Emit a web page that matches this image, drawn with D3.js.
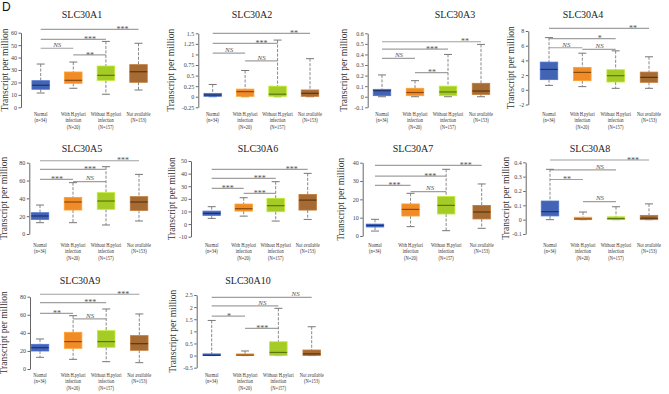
<!DOCTYPE html>
<html>
<head>
<meta charset="utf-8">
<script src="https://cdn.jsdelivr.net/npm/d3@7"></script>
<style>
body{margin:0;background:#fff}
svg{display:block}
svg text{font-family:"Liberation Serif","Times New Roman",serif}
</style>
</head>
<body>
<div id="chart"></div>
<script>
var genes = ['SLC30A1','SLC30A2','SLC30A3','SLC30A4','SLC30A5','SLC30A6','SLC30A7','SLC30A8','SLC30A9','SLC30A10'];
var groups = ['Normal','With H.pylori infection','Without H.pylori infection','Not available'];
var groupLabels = [['Normal','(n=34)'],['With H.pylori','infection','(N=20)'],['Without H.pylori','infection','(N=157)'],['Not available','(N=153)']];

// [low whisker, q1, median, q3, high whisker] per group
var slc30a1 = [[11.5,14.5,17.7,21.4,34.8],[15.3,19.3,21.7,28.4,36.4],[10.5,21.7,25.7,33.2,53],[13.9,20.1,28.6,34.3,51.5]];
var slc30a2 = [[0,0.01,0.04,0.08,0.29],[0,0.01,0.12,0.18,0.62],[0,0.01,0.06,0.25,1.34],[0,0.01,0.08,0.16,0.9]];
var slc30a3 = [[0,0.01,0.057,0.07,0.206],[0,0.01,0.04,0.08,0.152],[0,0.01,0.045,0.10,0.40],[0,0.022,0.054,0.127,0.495]];
var slc30a4 = [[0.6,1.38,2.77,3.77,7.1],[0.43,1.24,2.37,3.05,4.98],[0.2,1.06,1.92,2.73,5.3],[0.2,1.02,1.69,2.41,4.49]];
var slc30a5 = [[12.7,16.4,20.2,23.9,32.5],[12.7,26.9,35.9,41.1,57.6],[10.1,27.7,37,46.4,75.5],[14.6,26.5,35.9,41.9,66.9]];
var slc30a6 = [[4.5,6.9,8.5,10.3,13.8],[6.3,10.3,12.2,15.9,20.9],[2.4,9.8,14.6,20.4,33.6],[3.7,11.1,19.0,23.5,40.2]];
var slc30a7 = [[2.7,4.9,5.8,6.5,9.1],[5.1,10.9,14.5,17.5,23.3],[2.9,12,16.7,21.5,36.4],[4.2,9.3,13.1,16.7,28.4]];
var slc30a8 = [[0,0.026,0.056,0.13,0.351],[0,0,0.005,0.017,0.053],[0,0,0.007,0.02,0.09],[0,0,0.01,0.03,0.11]];
var slc30a9 = [[12.9,19.9,23.6,27.3,33.2],[10.7,22.9,30.3,40.6,59],[8.1,24,30.3,42.4,66.4],[7,20.7,28,36.9,60.9]];
var slc30a10 = [[0,0,0.01,0.07,1.45],[0,0,0.02,0.07,0.19],[0,0,0.13,0.57,1.95],[0,0,0.07,0.23,1.19]];

// y tick values per gene
var ticks1 = [0,10,20,30,40,50,60];
var ticks2 = [-0.25,0,0.25,0.5,0.75,1,1.25,1.5];
var ticks3 = [-0.1,0,0.1,0.2,0.3,0.4,0.5,0.6];
var ticks4 = [-2,0,2,4,6,8];
var ticks5 = [0,20,40,60,80];
var ticks6 = [-10,0,10,20,30,40,50];
var ticks7 = [0,10,20,30,40];
var ticks8 = [-0.1,0,0.1,0.2,0.3,0.4];
var ticks9 = [0,20,40,60,80];
var ticks10 = [-0.5,0,0.5,1,1.5,2,2.5];

// significance bars: [from group, to group, level, label]
var sig1 = [[0,3,62.7,'***'],[0,2,54.7,'***'],[0,1,47.5,'NS'],[1,2,42.1,'**']];
var sig2 = [[0,3,1.5,'**'],[0,2,1.26,'***'],[0,1,1.03,'NS'],[1,2,0.85,'NS']];
var sig3 = [[0,3,0.52,'**'],[0,2,0.45,'***'],[0,1,0.363,'NS'],[1,2,0.228,'**']];
var sig4 = [[0,3,8.37,'**'],[0,2,6.95,'*'],[0,1,5.72,'NS'],[1,2,5.5,'NS']];
var sig5 = [[0,3,82.2,'***'],[0,2,72.5,'***'],[0,1,61.3,'***'],[1,2,58.7,'NS']];
var sig6 = [[0,3,43.4,'***'],[0,2,36.2,'***'],[0,1,28.3,'***'],[1,2,24.3,'***']];
var sig7 = [[0,3,38.5,'***'],[0,2,32.7,'***'],[0,1,27.6,'***'],[1,2,24.2,'NS']];
var sig8 = [[0,3,0.416,'***'],[0,2,0.347,'NS'],[0,1,0.28,'**'],[1,2,0.126,'NS']];
var sig9 = [[0,3,82.7,'***'],[0,2,73.4,'***'],[0,1,61.6,'**'],[1,2,55.4,'NS']];
var sig10 = [[0,3,2.4,'NS'],[0,2,2.05,'NS'],[0,1,1.63,'*'],[1,2,1.12,'***']];

var allStats = [slc30a1,slc30a2,slc30a3,slc30a4,slc30a5,slc30a6,slc30a7,slc30a8,slc30a9,slc30a10];
var allTicks = [ticks1,ticks2,ticks3,ticks4,ticks5,ticks6,ticks7,ticks8,ticks9,ticks10];
var allSig = [sig1,sig2,sig3,sig4,sig5,sig6,sig7,sig8,sig9,sig10];

var width = 669, height = 394;
var serif = '"Liberation Serif","Times New Roman",serif';
var boxColors = ['#4363b5','#f08b28','#a5cb27','#a66a33'];
var medColors = ['#1d336c','#8a4a0e','#5c760e','#5b3610'];
var boxW = 17.5;

// panel placement (pixels)
var layout = [
	{axis:21, c0:40.7, c3:138.5, top:32.7, bottom:107.3, ylab:6, title:82},
	{axis:198.3, c0:212.7, c3:310, top:33.3, bottom:107.3, ylab:172, title:252},
	{axis:367.7, c0:382, c3:481, top:33.3, bottom:107.3, ylab:345, title:455},
	{axis:528.3, c0:549, c3:649, top:31, bottom:104.5, ylab:512, title:583},
	{axis:29.3, c0:40, c3:139, top:162.7, bottom:234, ylab:5, title:82},
	{axis:191, c0:211.7, c3:307.7, top:161, bottom:236.7, ylab:173, title:258},
	{axis:362.7, c0:375, c3:481.7, top:162.7, bottom:236, ylab:342, title:413},
	{axis:525.7, c0:550, c3:649, top:162.3, bottom:234, ylab:507, title:590},
	{axis:30, c0:40, c3:139.3, top:296.7, bottom:369, ylab:5, title:80},
	{axis:196.7, c0:211.7, c3:311.7, top:295, bottom:367.7, ylab:174, title:248}
];
var titleY = [16, 150, 282];
var labelY = [114, 245, 375];

var svg = d3.select('#chart').append('svg')
	.attr('width', width)
	.attr('height', height)
	.attr('font-family', serif);

svg.append('rect').attr('width', width).attr('height', height).attr('fill', '#fff');

svg.append('text')
	.attr('x', 2).attr('y', 11)
	.attr('font-size', 12)
	.style('font-family', 'Liberation Sans, Arial, sans-serif')
	.attr('fill', '#111')
	.text('D');

function drawPanel(i) {
	var L = layout[i];
	var row = i < 4 ? 0 : (i < 8 ? 1 : 2);
	var stats = allStats[i];
	var ticks = allTicks[i];

	var y = d3.scaleLinear()
		.domain([ticks[0], ticks[ticks.length - 1]])
		.range([L.bottom, L.top]);
	var x = d3.scalePoint()
		.domain(groups)
		.range([L.c0, L.c3]);

	var g = svg.append('g');

	// title
	g.append('text')
		.attr('x', L.title).attr('y', titleY[row])
		.attr('text-anchor', 'middle')
		.attr('dominant-baseline', 'middle')
		.attr('font-size', 10)
		.attr('fill', '#222')
		.text(genes[i]);

	// y axis
	var yAxis = d3.axisLeft(y)
		.tickValues(ticks)
		.tickSize(2.5)
		.tickSizeOuter(0)
		.tickFormat(function(d) { return String(+d.toFixed(2)); });
	var ax = g.append('g')
		.attr('transform', 'translate(' + L.axis + ',0)')
		.call(yAxis)
		.attr('font-family', serif);
	ax.select('.domain').attr('stroke', '#666');
	ax.selectAll('.tick line').attr('stroke', '#666');
	ax.selectAll('.tick text')
		.attr('font-size', 6)
		.attr('fill', '#444')
		.attr('x', -4);

	g.append('text')
		.attr('transform', 'translate(' + L.ylab + ',' + ((L.top + L.bottom) / 2) + ') rotate(-90)')
		.attr('text-anchor', 'middle')
		.attr('dominant-baseline', 'middle')
		.attr('font-size', 9.5)
		.attr('fill', '#333')
		.text('Transcript per million');

	// significance bars
	allSig[i].forEach(function(s) {
		var x1 = x(groups[s[0]]), x2 = x(groups[s[1]]);
		g.append('line')
			.attr('x1', x1).attr('x2', x2)
			.attr('y1', y(s[2])).attr('y2', y(s[2]))
			.attr('stroke', '#a0a0a0')
			.attr('stroke-width', 1.2);
		var isNS = s[3] == 'NS';
		g.append('text')
			.attr('x', x2 - 16)
			.attr('y', y(s[2]) + (isNS ? -1.2 : 2.6))
			.attr('text-anchor', 'middle')
			.attr('font-size', isNS ? 7 : 8)
			.attr('font-style', isNS ? 'italic' : 'normal')
			.attr('fill', '#555')
			.text(s[3]);
	});

	// boxes
	stats.forEach(function(d, j) {
		var cx = x(groups[j]);
		g.append('line')
			.attr('x1', cx).attr('x2', cx)
			.attr('y1', y(d[4])).attr('y2', y(d[3]))
			.attr('stroke', '#888').attr('stroke-width', 1)
			.attr('stroke-dasharray', '3,1.5');
		g.append('line')
			.attr('x1', cx).attr('x2', cx)
			.attr('y1', y(d[1])).attr('y2', y(d[0]))
			.attr('stroke', '#888').attr('stroke-width', 1)
			.attr('stroke-dasharray', '3,1.5');
		[d[0], d[4]].forEach(function(v) {
			g.append('line')
				.attr('x1', cx - 4).attr('x2', cx + 4)
				.attr('y1', y(v)).attr('y2', y(v))
				.attr('stroke', '#777').attr('stroke-width', 1);
		});
		g.append('rect')
			.attr('x', cx - boxW / 2)
			.attr('y', y(d[3]))
			.attr('width', boxW)
			.attr('height', Math.max(1.5, y(d[1]) - y(d[3])))
			.attr('fill', boxColors[j])
			.attr('stroke', d3.color(boxColors[j]).brighter(0.4))
			.attr('stroke-width', 0.8);
		g.append('line')
			.attr('x1', cx - boxW / 2).attr('x2', cx + boxW / 2)
			.attr('y1', y(d[2])).attr('y2', y(d[2]))
			.attr('stroke', medColors[j]).attr('stroke-width', 1.2);
	});

	// category labels, horizontally condensed like the source figure
	groupLabels.forEach(function(lines, j) {
		var t = g.append('g')
			.attr('transform', 'translate(' + x(groups[j]) + ',' + (labelY[row] + 2) + ') scale(0.72,1)')
			.append('text')
			.attr('text-anchor', 'middle')
			.attr('font-size', 6.2)
			.attr('fill', '#333');
		lines.forEach(function(s, k) {
			t.append('tspan')
				.attr('x', 0)
				.attr('y', k * 6.5)
				.text(s);
		});
	});
}

for (var i = 0; i < genes.length; i++) {
	drawPanel(i);
}
</script>
</body>
</html>
